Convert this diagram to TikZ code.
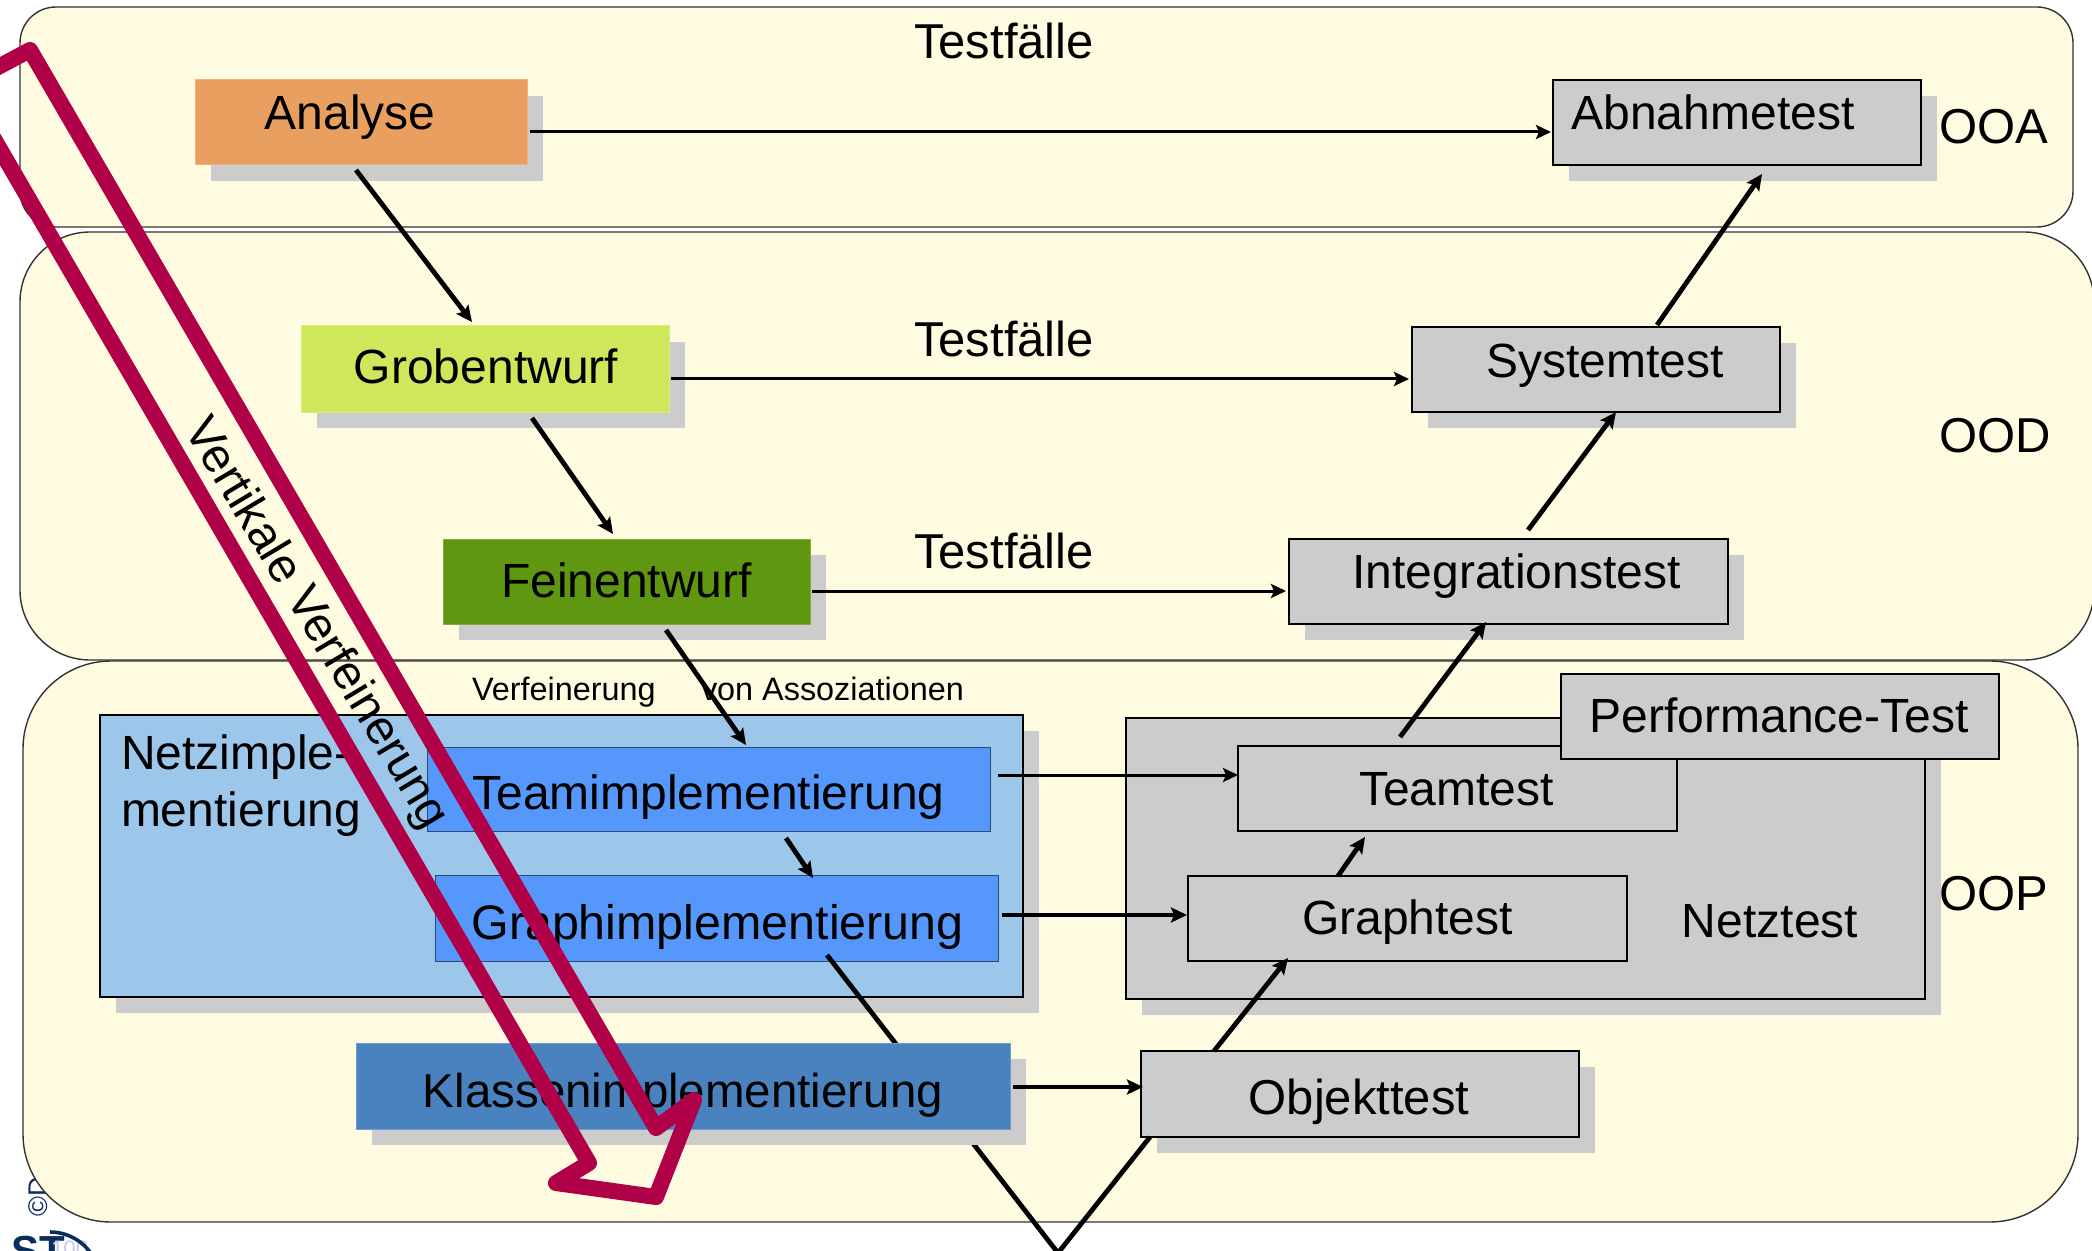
\documentclass[tikz,border=0pt]{standalone}
\usepackage{fontspec}
\setmainfont{Liberation Sans}
\usetikzlibrary{arrows.meta,calc,shadows}
\definecolor{bandfill}{HTML}{FFFBE0}
\definecolor{bandline}{HTML}{333333}
\definecolor{shadowgray}{HTML}{CCCCCC}
\definecolor{ribbon}{HTML}{B00048}
\definecolor{navy}{HTML}{0A2D5E}
\definecolor{lav}{HTML}{C8C8F0}
\definecolor{implblue}{HTML}{5597FB}
\definecolor{impledge}{HTML}{2A4A7A}
\definecolor{analysefill}{HTML}{E89F5F}
\definecolor{grobfill}{HTML}{CFE85B}
\definecolor{feinfill}{HTML}{5F9710}
\definecolor{klassfill}{HTML}{4A82C0}
\definecolor{netzfill}{HTML}{9DC7EA}
\newcommand{\tb}[3]{\raisebox{\dimexpr -#2pt/2\relax}[0pt][0pt]{\makebox[0pt][c]{\hspace*{#1pt}#3}}}
\newcommand{\bx}[9]{\node[#2,minimum width={(#5-(#3))*0.5pt},minimum height={(#6-(#4))*0.5pt}] (#1) at ({(#3+#5)/2},{(#4+#6)/2}) {\tb{#7}{#8}{#9}};}
\tikzset{
  x=0.5pt,y=-0.5pt,
  every node/.style={font=\fontsize{24}{28}\selectfont},
  basebox/.style={rectangle,inner sep=0pt,outer sep=0pt},
  shad/.style={general shadow={fill=shadowgray,shadow xshift=8pt,shadow yshift=-8pt}},
  band/.style={fill=bandfill,draw=bandline,line width=0.7pt},
  phase/.style={basebox,shad,draw=#1!80!white,fill=#1,line width=0.5pt},
  testbox/.style={basebox,draw=black,fill=shadowgray,line width=1.3pt},
  implbox/.style={basebox,draw=impledge,fill=implblue,line width=0.5pt},
  txtl/.style={anchor=base west,inner sep=0pt,outer sep=0pt},
  txtc/.style={anchor=base,inner sep=0pt,outer sep=0pt},
  bigtxt/.style={font=\fontsize{24.5}{28}\selectfont},
  smalltxt/.style={txtl,font=\fontsize{16.2}{20}\selectfont},
  conn/.style={-{Stealth[length=8pt,width=7.5pt,inset=1.5pt]},line width=2.4pt},
  thinconn/.style={-{Stealth[length=7.5pt,width=7pt,inset=1.5pt]},line width=1.5pt},
}
\begin{document}
\begin{tikzpicture}
\useasboundingbox (0,0) rectangle (2092,1251);
\clip (0,0) rectangle (2092,1251);
% small marks behind the bands
\node[rotate=90,anchor=base west,inner sep=0pt,text=navy,font=\fontsize{13.5}{16}\selectfont] (copy) at (47,1217) {©D};
\node[txtl,text=navy,font=\bfseries\fontsize{21}{24}\selectfont] (logo) at (11,1265) {ST};
\node[txtl,text=lav,font=\fontsize{11.2}{13}\selectfont] (logoyear) at (51,1256) {100};
\draw[navy,line width=1.8pt] (50,1232) arc[start angle=-90,end angle=-15,radius=50];
% bands
\draw[band,rounded corners=18pt] (20,7) rectangle (2073,227);
\draw[band,rounded corners=35pt] (20,232) rectangle (2094,660);
\draw[band,rounded corners=44pt] (23,661) rectangle (2078,1222);
% left column, upper part
\bx{an}{phase=analysefill}{195}{80}{527}{165}{-11}{7}{Analyse}
\bx{gr}{phase=grobfill}{301}{326}{669}{412}{1}{15}{Grobentwurf}
\bx{fe}{phase=feinfill}{443}{539}{810}{624}{0}{15.5}{Feinentwurf}
% right column, upper part
\bx{ab}{testbox,shad}{1553}{80}{1921}{165}{-24}{7.5}{Abnahmetest}
\bx{sy}{testbox,shad}{1412}{327}{1780}{412}{9}{8.5}{Systemtest}
\bx{in}{testbox,shad}{1289}{539}{1728}{624}{8}{6.5}{Integrationstest}
% Netz group
\node[basebox,shad,draw=black,fill=netzfill,line width=1.3pt,minimum width={923*0.5pt},minimum height={282*0.5pt}] (nz) at (561.5,856) {};
\node[txtl] (nztext1) at (121,769) {Netzimple-};
\node[txtl] (nztext2) at (121,826) {mentierung};
\bx{ti}{implbox}{427}{747}{990}{831}{0}{20}{Teamimplementierung}
\bx{gi}{implbox}{435}{875}{998}{961}{1}{21}{\fontsize{24.2}{28}\selectfont Graphimplementierung}
% Netztest group
\node[testbox,shad,minimum width={799*0.5pt},minimum height={281*0.5pt}] (nt) at (1525.5,858.5) {};
\bx{tt}{testbox}{1238}{746}{1677}{831}{-1}{16.5}{Teamtest}
\bx{gt}{testbox}{1188}{876}{1627}{961}{0}{15.5}{Graphtest}
\bx{pt}{testbox}{1561}{674}{1999}{759}{-1}{15.5}{Performance-Test}
\node[txtc] (nttext) at (1770,937) {Netztest};
\bx{ob}{testbox,shad}{1141}{1051}{1579}{1137}{-1}{20}{\fontsize{24.5}{28}\selectfont Objekttest}
% the V line passes behind Klassenimplementierung
\coordinate (vbottom) at (1058,1253);
\draw[line width=2.4pt] ($(gi.south)+(110.5,-6)$) -- (vbottom) -- ($(ob.south)+(-210,0)$);
\bx{kl}{phase=klassfill}{356}{1043}{1010}{1129}{0}{21}{\fontsize{23.75}{28}\selectfont Klassenimplementierung}
% free labels
\node[txtc,bigtxt] (tf1) at (1004,59) {Testfälle};
\node[txtc,bigtxt] (tf2) at (1004,357) {Testfälle};
\node[txtc,bigtxt] (tf3) at (1004,568) {Testfälle};
\node[txtl,bigtxt] (ooa) at (1939,144) {OOA};
\node[txtl,bigtxt] (ood) at (1939,452) {OOD};
\node[txtl,bigtxt] (oop) at (1939,910) {OOP};
\node[smalltxt] (vf) at (472,700) {Verfeinerung};
\node[smalltxt] (va) at (701,700) {von Assoziationen};
% connectors
\draw[conn] ($(an.south)+(-5,5)$) -- ($(gr.north)+(-13,-4)$);
\draw[conn] ($(gr.south)+(47,6)$) -- ($(fe.north)+(-13.5,-5)$);
\draw[conn] ($(fe.south)+(39.5,6)$) -- ($(ti.north)+(37.5,-2)$);
\draw[conn] ($(ti.south)+(77.5,7)$) -- ($(gi.north)+(96.5,3)$);
\draw[thinconn] ($(an.east)+(3,9.5)$) -- ($(ab.west)+(-2,9.5)$);
\draw[thinconn] ($(gr.east)+(2,10)$) -- ($(sy.west)+(-3,9.5)$);
\draw[thinconn] ($(fe.east)+(2,9.5)$) -- ($(in.west)+(-3,9.5)$);
\draw[thinconn] ($(ti.east)+(8,-14)$) -- ($(tt.west)+(0,-13.5)$);
\draw[conn] ($(gi.east)+(4,-3)$) -- ($(gt.west)+(-1,-3.5)$);
\draw[conn] ($(kl.east)+(3,1)$) -- ($(ob.west)+(2,-7)$);
\draw[conn] ($(ob.north)+(-146,0)$) -- ($(gt.south)+(-119.5,-3)$);
\draw[conn] ($(gt.north)+(-69.5,0)$) -- ($(tt.south)+(-92.5,6)$);
\draw[conn] ($(tt.north)+(-57.5,-9)$) -- ($(in.south)+(-22.5,-2)$);
\draw[conn] ($(in.north)+(19.5,-9)$) -- ($(sy.south)+(20,0)$);
\draw[conn] ($(sy.north)+(61,-2)$) -- ($(ab.south)+(25,9)$);
% ribbon arrow
\draw[ribbon,line width=8pt,line join=round]
  (-60,98) -- (30,50) -- (656,1128) -- (694,1100) -- (656,1197) -- (556,1183) -- (589,1163) -- (-60,46) -- cycle;
\node[rotate=-59,inner sep=0pt] (vv) at (315,624) {Vertikale Verfeinerung};
\end{tikzpicture}
\end{document}
